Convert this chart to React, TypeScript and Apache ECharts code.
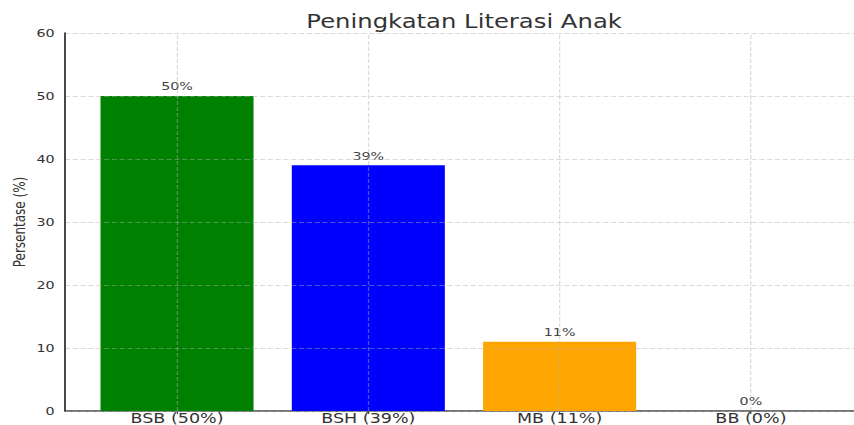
import React, { useEffect, useRef } from "react";
import * as echarts from "echarts";

const titleText = "Peningkatan Literasi Anak";
const yAxisName = "Persentase (%)";
const categories = ["BSB (50%)", "BSH (39%)", "MB (11%)", "BB (0%)"];
const values = [50, 39, 11, 0];
const barColors = ["#008000", "#0000ff", "#ffa500", "#ff0000"];
const yMin = 0;
const yMax = 60;
const yInterval = 10;

const STRETCH = 1.3;
const W = 854 / STRETCH;
const H = 425;
const FONT = "DejaVu Sans";
const gridColor = "rgba(176,176,176,0.45)";

export default function App() {
  const ref = useRef<HTMLDivElement>(null);
  useEffect(() => {
    if (!ref.current) return;
    const chart = echarts.init(ref.current, null, { renderer: "svg" });
    const top = 33;
    const bottom = 14;
    const option: any = {
      animation: false,
      backgroundColor: "#fff",
      textStyle: { fontFamily: FONT },
      title: {
        text: titleText,
        left: 357,
        textAlign: "center",
        top: 12,
        padding: 0,
        textStyle: { fontFamily: FONT, fontSize: 18.7, fontWeight: "normal", color: "#333" },
      },
      grid: [
        { left: 50, right: -12, top, bottom, containLabel: false, outerBoundsMode: "none" },
        { left: 62.6, width: 588.6, top, bottom, containLabel: false, outerBoundsMode: "none" },
      ],
      xAxis: [
        {
          type: "value",
          gridIndex: 0,
          min: 0,
          max: 1,
          axisLine: { show: true, lineStyle: { color: "#444", width: 1.5 } },
          axisTick: { show: false },
          axisLabel: { show: false },
          splitLine: { show: false },
        },
        {
          type: "category",
          gridIndex: 1,
          data: categories,
          axisLine: { show: false },
          axisTick: { show: true, alignWithLabel: true, length: 3, lineStyle: { color: "#444" } },
          axisLabel: {
            margin: 0,
            fontSize: 13.5,
            lineHeight: 13.5,
            color: "#333",
            fontFamily: FONT,
          },
          splitLine: { show: false },
        },
      ],
      yAxis: [
        {
          type: "value",
          gridIndex: 0,
          min: yMin,
          max: yMax,
          interval: yInterval,
          z: 10,
          axisLine: { show: true, lineStyle: { color: "#444", width: 1.5 } },
          axisTick: { show: false },
          axisLabel: { margin: 8, fontSize: 11, color: "#333", fontFamily: FONT },
          splitLine: { show: true, lineStyle: { color: gridColor, type: [4, 2], width: 1 } },
        },
        {
          type: "value",
          gridIndex: 1,
          min: yMin,
          max: yMax,
          interval: yInterval,
          show: false,
          splitLine: { show: false },
        },
      ],
      graphic: [
        {
          type: "text",
          x: 15,
          y: 222,
          rotation: Math.PI / 2,
          style: {
            text: yAxisName,
            fontFamily: FONT,
            fontSize: 12,
            fill: "#333",
            textAlign: "center",
            textVerticalAlign: "middle",
          },
        },
      ],
      series: [
        {
          type: "bar",
          xAxisIndex: 1,
          yAxisIndex: 1,
          barWidth: "80%",
          data: values.map((v, i) => ({ value: v, itemStyle: { color: barColors[i] } })),
          label: {
            show: true,
            position: "top",
            distance: 4,
            fontSize: 11,
            color: "#444",
            fontFamily: FONT,
            formatter: "{c}%",
          },
          markLine: {
            silent: true,
            symbol: ["none", "none"],
            label: { show: false },
            z: 10,
            lineStyle: { color: gridColor, type: [4, 2], width: 1 },
            data: categories.map((c) => ({ xAxis: c })),
          },
        },
      ],
    };
    chart.setOption(option);
    return () => chart.dispose();
  }, []);
  return (
    <div
      ref={ref}
      style={{
        position: "absolute",
        left: 0,
        top: 0,
        width: W,
        height: H,
        transform: `scaleX(${STRETCH})`,
        transformOrigin: "0 0",
      }}
    />
  );
}
